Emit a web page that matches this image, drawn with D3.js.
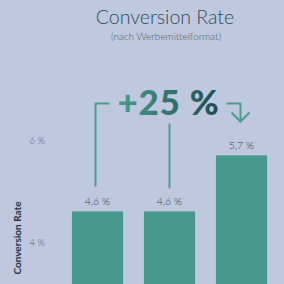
<!DOCTYPE html>
<html>
<head>
<meta charset="utf-8">
<script src="https://cdn.jsdelivr.net/npm/d3@7"></script>
<style>
  html, body { margin: 0; padding: 0; background: #bfc8df; }
  svg { display: block; font-family: Lato, "Noto Sans", sans-serif; }
</style>
</head>
<body>
<div id="chart"></div>
<script>
// data
const formats = ["Format A", "Format B", "Format C"];
const rates = [4.6, 4.6, 5.7];
const yTicks = [4, 6];
const uplift = "+25 %";

const width = 284, height = 284;

const svg = d3.select("#chart")
    .append("svg")
    .attr("width", width)
    .attr("height", height);

svg.append("rect")
    .attr("width", width)
    .attr("height", height)
    .attr("fill", "#bfc8df");

// title
svg.append("text")
    .attr("x", 165).attr("y", 24)
    .attr("text-anchor", "middle")
    .attr("font-size", 19.5)
    .attr("font-weight", 300)
    .attr("fill", "#2b4d57")
    .text("Conversion Rate");

svg.append("text")
    .attr("x", 166).attr("y", 39.5)
    .attr("text-anchor", "middle")
    .attr("font-size", 10)
    .attr("font-weight", 300)
    .attr("fill", "#4d5e6b")
    .text("(nach Werbemittelformat)");

// scales
const x = d3.scaleBand()
    .domain(formats)
    .range([61.5, 277.5])
    .paddingInner(0.29)
    .paddingOuter(0.145);

const y = d3.scaleLinear()
    .domain([4, 6])
    .range([242, 140]);

const fmt = v => d3.format(".1f")(v).replace(".", ",") + " %";

// y axis (labels only)
const yAxis = svg.append("g")
    .attr("transform", "translate(47,0)")
    .call(d3.axisLeft(y).tickValues(yTicks).tickSize(0).tickPadding(2)
        .tickFormat(d => d + " %"));
yAxis.select(".domain").remove();
yAxis.selectAll("text")
    .attr("font-family", "Lato, sans-serif")
    .attr("font-size", 9.5)
    .attr("font-weight", 300)
    .attr("fill", "#55616e");

svg.append("text")
    .attr("transform", "translate(20.5,238) rotate(-90)")
    .attr("text-anchor", "middle")
    .attr("font-size", 10)
    .attr("font-weight", "bold")
    .attr("fill", "#253a45")
    .text("Conversion Rate");

// bars
svg.append("g")
    .selectAll("rect")
    .data(rates)
    .join("rect")
    .attr("x", (d, i) => x(formats[i]))
    .attr("y", d => y(d))
    .attr("width", x.bandwidth())
    .attr("height", d => y(0) - y(d))
    .attr("fill", "#46998c");

svg.append("g")
    .selectAll("text")
    .data(rates)
    .join("text")
    .attr("x", (d, i) => x(formats[i]) + x.bandwidth() / 2)
    .attr("y", d => y(d) - 6)
    .attr("text-anchor", "middle")
    .attr("font-size", 10.5)
    .attr("font-weight", 300)
    .attr("fill", "#2f3d48")
    .text(fmt);

// annotation bracket
const cx = i => x(formats[i]) + x.bandwidth() / 2;
const ann = svg.append("g")
    .attr("fill", "none")
    .attr("stroke", "#4a9e8c")
    .attr("stroke-width", 2);

const topY = 103.5;
ann.append("path")
    .attr("d", `M${cx(0) - 2},${y(rates[0]) - 25} V${topY} H${cx(0) + 12}`);
ann.append("path")
    .attr("d", `M${cx(1)},${y(rates[1]) - 23} V${topY + 20}`);
ann.append("path")
    .attr("d", `M${cx(2) - 15},${topY} H${cx(2) - 1} V${topY + 18}`);
ann.append("path")
    .attr("d", `M${cx(2) - 10},${topY + 9} L${cx(2) - 1},${topY + 18} L${cx(2) + 8},${topY + 9}`);

const defs = svg.append("defs");
const grad = defs.append("linearGradient")
    .attr("id", "upGrad")
    .attr("gradientUnits", "userSpaceOnUse")
    .attr("x1", 116).attr("x2", 222)
    .attr("y1", 0).attr("y2", 0);
grad.append("stop").attr("offset", "0%").attr("stop-color", "#45a08e");
grad.append("stop").attr("offset", "100%").attr("stop-color", "#1d4a50");

svg.append("text")
    .attr("x", 168.5).attr("y", 114.5)
    .attr("text-anchor", "middle")
    .attr("font-size", 35)
    .attr("font-weight", 900)
    .attr("letter-spacing", 0.8)
    .attr("fill", "url(#upGrad)")
    .text(uplift);
</script>
</body>
</html>
